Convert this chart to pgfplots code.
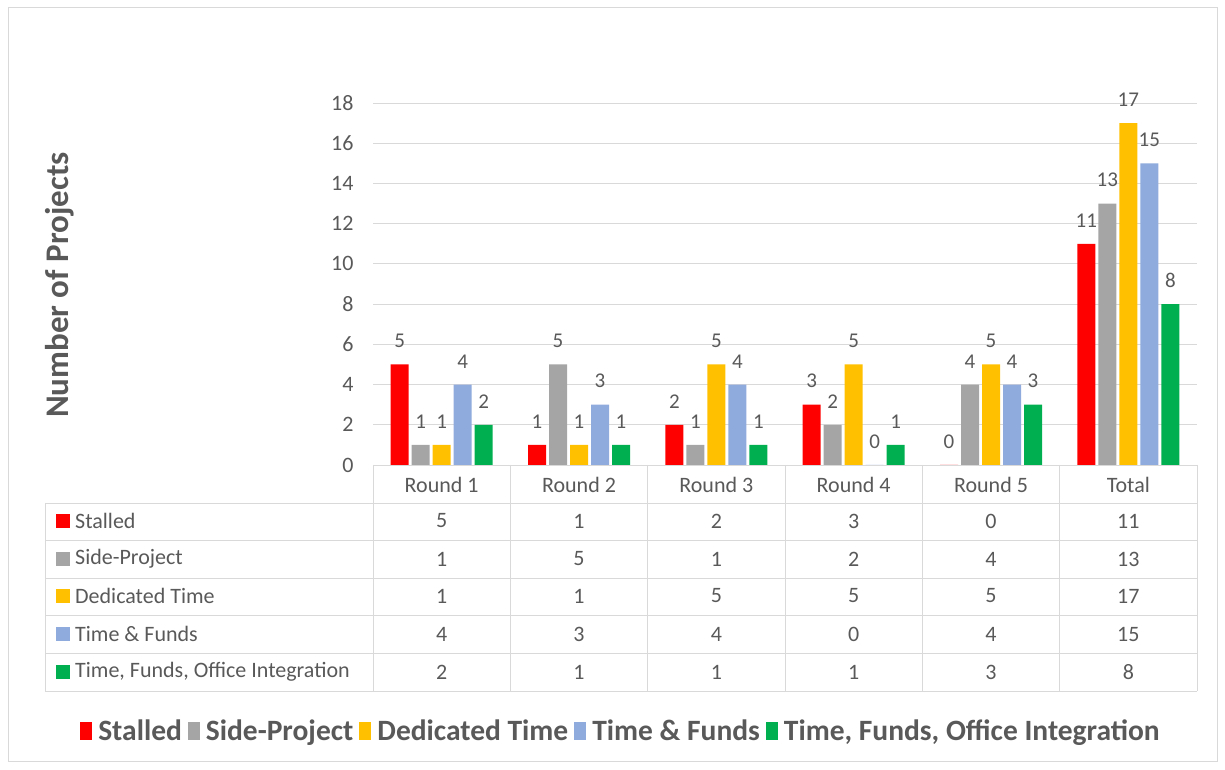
\documentclass[border=0pt]{standalone}
\usepackage{fontspec}
\setmainfont{Carlito}
\usepackage{pgfplots}
\usepackage{pgfplotstable}
\pgfplotsset{compat=1.18}

\definecolor{cStall}{HTML}{FF0000}
\definecolor{cSide}{HTML}{A5A5A5}
\definecolor{cDed}{HTML}{FFC000}
\definecolor{cTF}{HTML}{8FAADC}
\definecolor{cTFO}{HTML}{00B050}
\definecolor{txt}{HTML}{595959}
\definecolor{rule}{HTML}{D9D9D9}
\newcommand\fs[1]{\fontsize{#1}{#1}\selectfont}

% project counts per funding model, per round (x = 0..4) and in total (x = 5)
\pgfplotstableread{
x stalled side dedicated tf tfo
0 5  1  1  4  2
1 1  5  1  3  1
2 2  1  5  4  1
3 3  2  5  0  1
4 0  4  5  4  3
5 11 13 17 15 8
}\datatab

\begin{document}
\begin{tikzpicture}
\begin{scope}[x=1pt,y=1pt]
\useasboundingbox (0,0) rectangle (1225,770);
\draw[rule, line width=1pt] (8,8) rectangle (1217,762);
\end{scope}

\begin{axis}[
  at={(373pt,305pt)}, anchor=south west,
  scale only axis, width=824pt, height=362pt,
  xmin=-0.5, xmax=5.5, ymin=0, ymax=18,
  ybar=3pt, bar width=18pt,
  axis line style={draw=none},
  major tick length=0pt,
  xtick=\empty,
  ytick={0,2,...,18},
  ymajorgrids, grid style={rule, line width=0.8pt},
  /pgf/number format/assume math mode=true,
  yticklabel style={font=\fs{22}, text=txt, anchor=east, xshift=-16pt},
  every axis y label/.style={at={(axis description cs:-0.380,0.497)}, rotate=90, anchor=center},
  ylabel={\fs{33}\bfseries Number of Projects},
  ylabel style={text=txt},
  nodes near coords,
  every node near coord/.append style={font=\fs{21}, text=txt, anchor=south, yshift=13pt},
  clip=false,
  legend columns=5,
  legend style={at={(axis description cs:0.301,-0.735)}, anchor=center, draw=none,
    font=\fs{29.5}\bfseries, text=txt, column sep=4pt,
    /tikz/every even column/.append style={column sep=4pt}},
  legend image code/.code={\fill[#1] (0pt,-9pt) rectangle (12pt,9pt);},
]
\addplot[fill=cStall, draw=none] table[x=x, y=stalled] {\datatab};
\addplot[fill=cSide, draw=none] table[x=x, y=side] {\datatab};
\addplot[fill=cDed, draw=none] table[x=x, y=dedicated] {\datatab};
\addplot[fill=cTF, draw=none] table[x=x, y=tf] {\datatab};
\addplot[fill=cTFO, draw=none] table[x=x, y=tfo] {\datatab};
\legend{Stalled, Side-Project, Dedicated Time, Time \& Funds, {Time, Funds, Office Integration}}
\end{axis}

% data table below the plot
\begin{scope}[x=1pt,y=1pt]
\begin{scope}[rule, line width=0.8pt]
  \draw (373,305) -- (1197,305);
  \foreach \y in {267,230,192,155,117,79} \draw (45,\y) -- (1197,\y);
  \draw (45,267) -- (45,79);
  \foreach \k in {0,...,6} \draw ({373+137.333*\k},305) -- ({373+137.333*\k},79);
\end{scope}
\foreach \lab [count=\k from 0] in {Round 1,Round 2,Round 3,Round 4,Round 5,Total}
  \node[font=\fs{22}, text=txt] at ({441.67+137.333*\k},285) {\lab};
\foreach \name/\col/\cc/\y in {Stalled/cStall/stalled/249, Side-Project/cSide/side/211,
    Dedicated Time/cDed/dedicated/174, Time \& Funds/cTF/tf/136,
    {Time, Funds, Office Integration}/cTFO/tfo/98}{
  \fill[\col] (56,\y-7) rectangle (70,\y+7);
  \node[font=\fs{22}, text=txt, anchor=west, inner sep=0pt] at (75,\y) {\name};
  \foreach \r in {0,...,5}{
    \pgfplotstablegetelem{\r}{\cc}\of\datatab
    \node[font=\fs{22}, text=txt] at ({441.67+137.333*\r},\y) {\pgfplotsretval};
  }
}
\end{scope}
\end{tikzpicture}
\end{document}
